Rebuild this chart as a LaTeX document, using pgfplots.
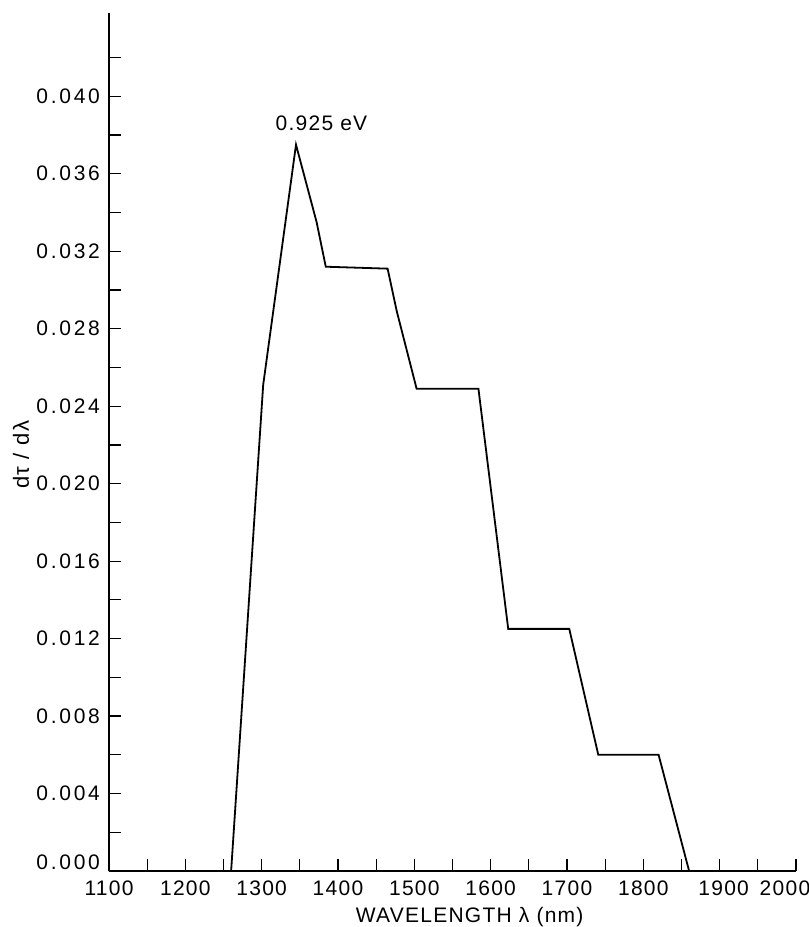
\documentclass[border=0pt]{standalone}
\usepackage{fontspec}
\setmainfont{Liberation Sans}[LetterSpace=6]
\newfontfamily\ytickfont{Liberation Sans}[LetterSpace=13]
\usepackage{pgfplots}
\pgfplotsset{compat=1.18}

\begin{document}
\begin{tikzpicture}
\begin{axis}[
    scale only axis,
    width=343.5pt, height=429pt,
    at={(0,0)}, anchor=south west,
    axis lines=left,
    axis line style={-, line width=0.6pt},
    xmin=1100, xmax=2000,
    ymin=0, ymax=0.0443,
    xtick={1100,1200,1300,1400,1500,1600,1700,1800,1900,2000},
    xticklabels={1100,1200,1300,1400,1500,1600,1700,1800,\hspace*{4pt}1900,2000\hspace*{11pt}},
    minor xtick={1150,1250,1350,1450,1550,1650,1750,1850,1950},
    ytick={0.004,0.008,0.012,0.016,0.020,0.024,0.028,0.032,0.036,0.040},
    minor ytick={0.002,0.006,0.010,0.014,0.018,0.022,0.026,0.030,0.034,0.038,0.042},
    extra y ticks={0},
    extra y tick style={yticklabel style={anchor=south east, yshift=-3pt}},
    scaled y ticks=false,
    tick align=inside,
    major tick length=6pt, minor tick length=6pt,
    every tick/.style={black, line width=0.6pt},
    tick label style={font=\fontsize{10.5}{12}\selectfont},
    x tick label style={yshift=-1.5pt},
    y tick label style={font=\fontsize{10.5}{12}\ytickfont, xshift=-1pt,
        /pgf/number format/fixed, /pgf/number format/fixed zerofill,
        /pgf/number format/precision=3, /pgf/number format/assume math mode=true},
    xlabel={WAVELENGTH λ (nm)},
    xlabel style={at={(axis description cs:0.525,-0.0536)}, anchor=center, font=\fontsize{10.5}{12}\selectfont},
    ylabel={dτ / dλ},
    ylabel style={at={(axis description cs:-0.128,0.485)}, anchor=center, font=\fontsize{11}{12}\selectfont},
]
% derivative of transmission
\addplot[black, line width=0.9pt] coordinates {
    (1100,0) (1260,0) (1302,0.0251) (1345,0.0375) (1372,0.0335)
    (1384,0.0312) (1465,0.0311) (1477,0.0289) (1503,0.0249)
    (1584,0.0249) (1623,0.0125) (1703,0.0125) (1741,0.0060)
    (1820,0.0060) (1860,0) (2000,0)
};
\node[anchor=west, font=\fontsize{10.5}{12}\selectfont] at (axis cs:1309,0.0386) {0.925 eV};
\end{axis}
\pgfresetboundingbox
\useasboundingbox (-54.5pt,-28pt) rectangle (350pt,435.5pt);
\end{tikzpicture}
\end{document}
